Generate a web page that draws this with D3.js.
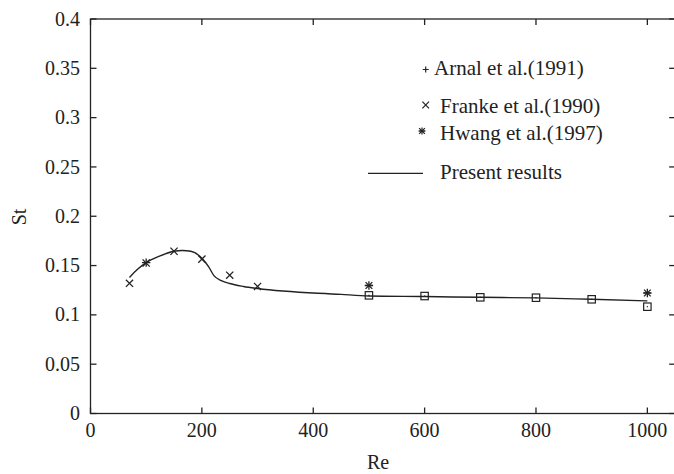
<!DOCTYPE html>
<html>
<head>
<meta charset="utf-8">
<script src="https://cdn.jsdelivr.net/npm/d3@7"></script>
<style>
  html, body { margin: 0; padding: 0; background: #fff; }
</style>
</head>
<body>
<svg id="chart" width="674" height="474"></svg>
<script>
// Strouhal number vs Reynolds number
const xTicks = [0, 200, 400, 600, 800, 1000];
const yTicks = [0, 0.05, 0.1, 0.15, 0.2, 0.25, 0.3, 0.35, 0.4];
const yTickLabels = ["0", "0.05", "0.1", "0.15", "0.2", "0.25", "0.3", "0.35", "0.4"];

// Present results (solid curve)
const presentRe = [70, 85, 100, 125, 150, 165, 180, 200, 212, 222, 235, 250, 275, 300, 450, 500, 600, 700, 800, 900, 1000];
const presentSt = [0.138, 0.1465, 0.153, 0.1598, 0.1645, 0.1653, 0.1645, 0.1575, 0.149, 0.1395, 0.1348, 0.1318, 0.1288, 0.1267, 0.1208, 0.1192, 0.1186, 0.1178, 0.1172, 0.1158, 0.1142];

// Present results at sampled Re (square markers)
const squareRe = [500, 600, 700, 800, 900, 1000];
const squareSt = [0.1198, 0.1191, 0.1178, 0.1174, 0.1158, 0.1083];

// Arnal et al. (1991)
const arnalRe = [100];
const arnalSt = [0.153];

// Franke et al. (1990)
const frankeRe = [70, 100, 150, 200, 250, 300];
const frankeSt = [0.132, 0.1526, 0.1645, 0.1565, 0.1402, 0.1288];

// Hwang et al. (1997)
const hwangRe = [500, 1000];
const hwangSt = [0.1298, 0.1222];

const legendLabels = ["Arnal et al.(1991)", "Franke et al.(1990)", "Hwang et al.(1997)", "Present results"];

const FONT = "'Liberation Serif', serif";
const svg = d3.select("#chart");
const ink = "#222";

const x = d3.scaleLinear().domain([0, 1050]).range([90.5, 675.2]);
const y = d3.scaleLinear().domain([0, 0.4]).range([413.5, 19]);

// frame
const frame = svg.append("g").attr("fill", "none").attr("stroke", ink).attr("stroke-width", 1.3);
frame.append("rect")
  .attr("x", x(0)).attr("y", y(0.4))
  .attr("width", x(1050) - x(0)).attr("height", y(0) - y(0.4));

// inward ticks on all four sides
const tl = 6;
xTicks.forEach(t => {
  frame.append("line").attr("x1", x(t)).attr("x2", x(t)).attr("y1", y(0)).attr("y2", y(0) - tl);
  frame.append("line").attr("x1", x(t)).attr("x2", x(t)).attr("y1", y(0.4)).attr("y2", y(0.4) + tl);
});
yTicks.forEach(t => {
  frame.append("line").attr("x1", x(0)).attr("x2", x(0) + tl).attr("y1", y(t)).attr("y2", y(t));
  frame.append("line").attr("x1", x(1050)).attr("x2", x(1050) - tl).attr("y1", y(t)).attr("y2", y(t));
});

// tick labels
const txt = svg.append("g").attr("fill", ink).attr("font-family", FONT);
txt.append("g").selectAll("text").data(xTicks).join("text")
  .attr("x", d => x(d)).attr("y", 437)
  .attr("text-anchor", "middle").attr("font-size", 20)
  .text(d => d);
txt.append("g").selectAll("text").data(yTicks).join("text")
  .attr("x", 80).attr("y", d => y(d)).attr("dy", "0.33em")
  .attr("text-anchor", "end").attr("font-size", 20)
  .text((d, i) => yTickLabels[i]);

// axis titles
txt.append("text").attr("x", 378).attr("y", 469)
  .attr("text-anchor", "middle").attr("font-size", 20).text("Re");
txt.append("text")
  .attr("transform", "translate(26,217) rotate(-90)")
  .attr("text-anchor", "middle").attr("font-size", 20).text("St");

// present results curve
const line = d3.line().x(d => x(d[0])).y(d => y(d[1])).curve(d3.curveMonotoneX);
svg.append("path")
  .datum(presentRe.map((r, i) => [r, presentSt[i]]))
  .attr("d", line)
  .attr("fill", "none").attr("stroke", ink).attr("stroke-width", 1.4);

// marker shapes
function cross(g, cx, cy, s) {
  g.append("path").attr("d", `M${cx - s},${cy - s}L${cx + s},${cy + s}M${cx - s},${cy + s}L${cx + s},${cy - s}`);
}
function plus(g, cx, cy, s) {
  g.append("path").attr("d", `M${cx - s},${cy}L${cx + s},${cy}M${cx},${cy - s}L${cx},${cy + s}`);
}
function star(g, cx, cy, s) {
  cross(g, cx, cy, s * 0.8);
  plus(g, cx, cy, s);
  g.append("path").attr("d", `M${cx - s * 0.8},${cy}L${cx + s * 0.8},${cy}`);
}

const marks = svg.append("g").attr("fill", "none").attr("stroke", ink).attr("stroke-width", 1.3);

squareRe.forEach((r, i) => {
  const cx = x(r), cy = y(squareSt[i]);
  marks.append("rect").attr("x", cx - 3.7).attr("y", cy - 3.7).attr("width", 7.4).attr("height", 7.4).attr("stroke-width", 1.2);
  marks.append("rect").attr("x", cx - 0.6).attr("y", cy - 0.6).attr("width", 1.2).attr("height", 1.2)
    .attr("fill", ink).attr("stroke", "none");
});
frankeRe.forEach((r, i) => cross(marks, x(r), y(frankeSt[i]), 3.6));
arnalRe.forEach((r, i) => plus(marks, x(r), y(arnalSt[i]), 4.2));
hwangRe.forEach((r, i) => star(marks, x(r), y(hwangSt[i]), 4.2));

// legend
const leg = svg.append("g");
const legMarks = leg.append("g").attr("fill", "none").attr("stroke", ink).attr("stroke-width", 1.2);
plus(legMarks, 425.7, 69.5, 3);
cross(legMarks, 425.7, 105, 3.3);
star(legMarks, 422, 131, 3.6);
legMarks.append("line").attr("x1", 368).attr("x2", 423).attr("y1", 173.3).attr("y2", 173.3).attr("stroke-width", 1.3);

const legX = [434, 440, 440, 440];
const legY = [75, 112.5, 140, 179];
leg.append("g").attr("fill", ink).attr("font-family", FONT)
  .selectAll("text").data(legendLabels).join("text")
  .attr("x", (d, i) => legX[i]).attr("y", (d, i) => legY[i])
  .attr("font-size", 21).text(d => d);
</script>
</body>
</html>
